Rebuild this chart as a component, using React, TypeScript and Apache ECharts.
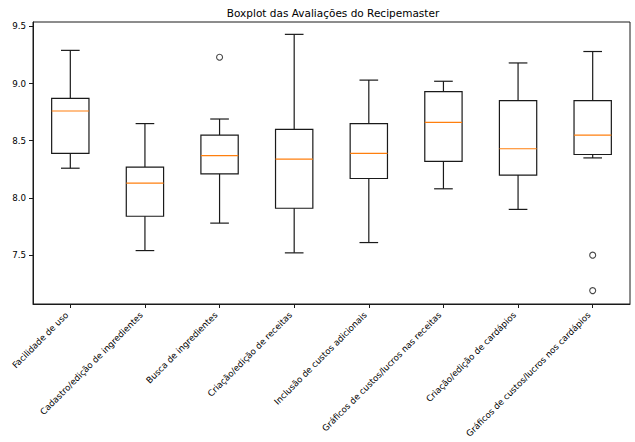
import React, { useEffect, useRef } from "react";
import * as echarts from "echarts";

const categories = [
  "Facilidade de uso",
  "Cadastro/edição de ingredientes",
  "Busca de ingredientes",
  "Criação/edição de receitas",
  "Inclusão de custos adicionais",
  "Gráficos de custos/lucros nas receitas",
  "Criação/edição de cardápios",
  "Gráficos de custos/lucros nos cardápios",
];
const whiskerLow = [8.26, 7.54, 7.78, 7.52, 7.61, 8.08, 7.9, 8.35];
const q1 = [8.39, 7.84, 8.21, 7.91, 8.17, 8.32, 8.2, 8.38];
const medians = [8.76, 8.13, 8.37, 8.34, 8.39, 8.66, 8.43, 8.55];
const q3 = [8.87, 8.27, 8.55, 8.6, 8.65, 8.93, 8.85, 8.85];
const whiskerHigh = [9.29, 8.65, 8.69, 9.43, 9.03, 9.02, 9.18, 9.28];
const outlierCategory = [2, 7, 7];
const outlierValues = [9.23, 7.5, 7.19];
const yTicks = [7.5, 8.0, 8.5, 9.0, 9.5];
const title = "Boxplot das Avaliações do Recipemaster";

const FONT = "DejaVu Sans";

export default function App() {
  const ref = useRef<HTMLDivElement>(null);
  useEffect(() => {
    if (!ref.current) return;
    const chart = echarts.init(ref.current, null, { renderer: "svg" });
    const boxData = categories.map((_, i) => [
      i,
      whiskerLow[i],
      q1[i],
      medians[i],
      q3[i],
      whiskerHigh[i],
    ]);
    const outliers = outlierCategory.map((c, i) => [c, outlierValues[i]]);
    const lineColor = "#1a1a1a";
    const lw = 1.2;
    chart.setOption({
      animation: false,
      backgroundColor: "#fff",
      graphic: [
        {
          type: "text",
          x: 333,
          y: 12.5,
          style: {
            text: title,
            font: `10.5px "${FONT}"`,
            fill: "#000",
            align: "center",
            verticalAlign: "middle",
            textAlign: "center",
            textVerticalAlign: "middle",
          },
        },
      ],
      grid: {
        left: 33,
        right: 5,
        top: 22,
        bottom: 138,
        show: true,
        borderColor: "#1a1a1a",
        borderWidth: 1,
        backgroundColor: "transparent",
        containLabel: false,
        outerBoundsMode: "none",
      },
      xAxis: {
        type: "category",
        data: categories,
        boundaryGap: true,
        axisLine: { show: true, lineStyle: { color: "#1a1a1a", width: 1 } },
        axisTick: {
          show: true,
          alignWithLabel: true,
          length: 4,
          lineStyle: { color: "#1a1a1a" },
        },
        axisLabel: {
          rotate: 45,
          interval: 0,
          fontSize: 8.7,
          fontFamily: FONT,
          color: "#000",
          margin: 6,
          padding: [0, 5, 0, 0],
        },
        splitLine: { show: false },
      },
      yAxis: {
        type: "value",
        min: 7.073,
        max: 9.538,
        axisLine: { show: true, lineStyle: { color: "#1a1a1a", width: 1 } },
        axisTick: {
          show: true,
          length: 4,
          lineStyle: { color: "#1a1a1a" },
          customValues: yTicks,
        },
        axisLabel: {
          fontSize: 8.7,
          fontFamily: FONT,
          color: "#000",
          margin: 7,
          customValues: yTicks,
          formatter: (v: number) => v.toFixed(1),
        },
        splitLine: { show: false },
      },
      series: [
        {
          type: "custom",
          data: boxData,
          encode: { x: 0, y: [1, 2, 3, 4, 5] },
          renderItem: (params: any, api: any) => {
            const i = api.value(0);
            const pLow = api.coord([i, api.value(1)]);
            const pQ1 = api.coord([i, api.value(2)]);
            const pMed = api.coord([i, api.value(3)]);
            const pQ3 = api.coord([i, api.value(4)]);
            const pHigh = api.coord([i, api.value(5)]);
            const band = api.size([1, 0])[0];
            const half = band * 0.25;
            const cap = band * 0.125;
            const x = pMed[0];
            const stroke = { stroke: lineColor, lineWidth: lw, fill: null };
            return {
              type: "group",
              children: [
                {
                  type: "rect",
                  shape: {
                    x: x - half,
                    y: pQ3[1],
                    width: half * 2,
                    height: pQ1[1] - pQ3[1],
                  },
                  style: { stroke: lineColor, lineWidth: lw, fill: "transparent" },
                },
                {
                  type: "line",
                  shape: { x1: x, y1: pQ3[1], x2: x, y2: pHigh[1] },
                  style: stroke,
                },
                {
                  type: "line",
                  shape: { x1: x, y1: pQ1[1], x2: x, y2: pLow[1] },
                  style: stroke,
                },
                {
                  type: "line",
                  shape: { x1: x - cap, y1: pHigh[1], x2: x + cap, y2: pHigh[1] },
                  style: stroke,
                },
                {
                  type: "line",
                  shape: { x1: x - cap, y1: pLow[1], x2: x + cap, y2: pLow[1] },
                  style: stroke,
                },
                {
                  type: "line",
                  shape: { x1: x - half, y1: pMed[1], x2: x + half, y2: pMed[1] },
                  style: { stroke: "#ff7f0e", lineWidth: lw, fill: null },
                },
              ],
            };
          },
          z: 2,
        },
        {
          type: "scatter",
          data: outliers,
          symbol: "circle",
          symbolSize: 6,
          itemStyle: {
            color: "transparent",
            borderColor: "#1a1a1a",
            borderWidth: 1.1,
          },
          z: 3,
        },
      ],
    });
    return () => chart.dispose();
  }, []);
  return (
    <div
      ref={ref}
      style={{
        position: "absolute",
        left: 0,
        top: 0,
        width: 635,
        height: 442,
        background: "#fff",
      }}
    />
  );
}
